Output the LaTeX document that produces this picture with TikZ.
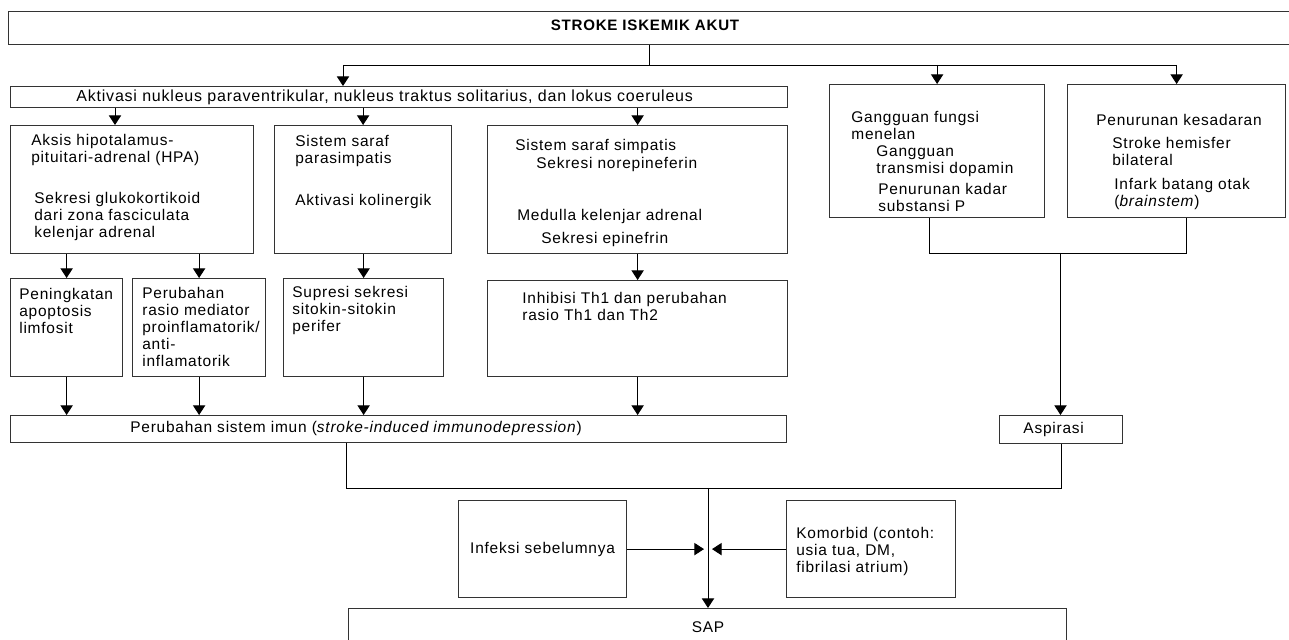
\documentclass[tikz,border=0pt]{standalone}
\usepackage{fontspec}
\setmainfont{Liberation Sans}[LetterSpace=5]
\usetikzlibrary{arrows.meta,positioning}

\begin{document}
\begin{tikzpicture}[kotak/.style={draw=black!80,line width=0.7pt,anchor=north west,inner sep=0pt,font={\fontsize{8.8pt}{9.67pt}\selectfont}},teks/.style={anchor=north west,align=left,inner sep=0pt,font={\fontsize{8.8pt}{9.67pt}\selectfont}},panah/.style={line width=0.55pt,-{Triangle[length=5.5pt,width=7pt]}},garis/.style={line width=0.55pt}]
\useasboundingbox (0,0) rectangle (25.78,-12.8);
% kotak
\node[kotak,minimum width=25.7cm,minimum height=0.66cm] (judul) at (0.16,-0.22) {};
\node[teks,anchor=center,font={\fontsize{8.6pt}{9.67pt}\selectfont\bfseries}] (tjudul) at (12.90,-0.50) {STROKE ISKEMIK AKUT};
\node[kotak,minimum width=15.54cm,minimum height=0.42cm] (aktivasi) at (0.20,-1.72) {};
\node[teks,anchor=west,font={\fontsize{9.1pt}{9.67pt}\selectfont}] (taktivasi) at (1.52,-1.94) {Aktivasi nukleus paraventrikular, nukleus traktus solitarius, dan lokus coeruleus};
\node[kotak,minimum width=4.86cm,minimum height=2.56cm] (hpa) at (0.20,-2.50) {};
\node[kotak,minimum width=3.54cm,minimum height=2.56cm] (para) at (5.48,-2.50) {};
\node[kotak,minimum width=6.00cm,minimum height=2.56cm] (simpa) at (9.74,-2.50) {};
\node[kotak,minimum width=2.24cm,minimum height=1.96cm] (ningkat) at (0.20,-5.56) {};
\node[kotak,minimum width=2.66cm,minimum height=1.96cm] (rasio) at (2.64,-5.56) {};
\node[kotak,minimum width=3.20cm,minimum height=1.96cm] (supresi) at (5.66,-5.56) {};
\node[kotak,minimum width=6.00cm,minimum height=1.92cm] (inhibisi) at (9.74,-5.60) {};
\node[kotak,minimum width=15.52cm,minimum height=0.54cm] (imun) at (0.20,-8.30) {};
\node[teks,anchor=west] (timun) at (2.60,-8.58) {Perubahan sistem imun (\textit{stroke-induced immunodepression})};
\node[kotak,minimum width=4.30cm,minimum height=2.66cm] (gangguan) at (16.58,-1.68) {};
\node[kotak,minimum width=4.36cm,minimum height=2.66cm] (penurunan) at (21.34,-1.68) {};
\node[kotak,minimum width=2.46cm,minimum height=0.56cm] (aspirasi) at (19.98,-8.30) {Aspirasi\hspace*{0.3cm}};
\node[kotak,minimum width=3.36cm,minimum height=1.94cm] (infeksi) at (9.16,-10.00) {Infeksi sebelumnya};
\node[kotak,minimum width=3.38cm,minimum height=1.94cm] (komorbid) at (15.72,-10.00) {};
\node[kotak,minimum width=14.36cm,minimum height=1.0cm] (sap) at (6.96,-12.16) {};
\node[teks,anchor=center] (tsap) at (14.16,-12.54) {SAP};
% isi teks
\node[teks] (thpa) at (0.62,-2.68) {Aksis hipotalamus-\\pituitari-adrenal (HPA)\\[0.48cm]\hspace*{0.06cm}Sekresi glukokortikoid\\\hspace*{0.06cm}dari zona fasciculata\\\hspace*{0.06cm}kelenjar adrenal};
\node[teks] (tpara) at (5.90,-2.70) {Sistem saraf\\parasimpatis\\[0.5cm]Aktivasi kolinergik};
\node[teks] (tsimpa) at (10.30,-2.78) {Sistem saraf simpatis\\[0.02cm]\hspace*{0.42cm}Sekresi norepineferin\\[0.7cm]\hspace*{0.04cm}Medulla kelenjar adrenal\\[0.12cm]\hspace*{0.52cm}Sekresi epinefrin};
\node[teks] (tningkat) at (0.38,-5.76) {Peningkatan\\apoptosis\\limfosit};
\node[teks] (trasio) at (2.84,-5.74) {Perubahan\\rasio mediator\\proinflamatorik/\\anti-\\inflamatorik};
\node[teks] (tsupresi) at (5.84,-5.72) {Supresi sekresi\\sitokin-sitokin\\perifer};
\node[teks] (tinhibisi) at (10.44,-5.84) {Inhibisi Th1 dan perubahan\\rasio Th1 dan Th2};
\node[teks] (tgangguan) at (17.02,-2.22) {Gangguan fungsi\\menelan\\\hspace*{0.5cm}Gangguan\\\hspace*{0.5cm}transmisi dopamin\\[0.08cm]\hspace*{0.54cm}Penurunan kadar\\\hspace*{0.54cm}substansi P};
\node[teks] (tpenurunan) at (21.92,-2.28) {Penurunan kesadaran\\[0.12cm]\hspace*{0.32cm}Stroke hemisfer\\\hspace*{0.32cm}bilateral\\[0.14cm]\hspace*{0.36cm}Infark batang otak\\\hspace*{0.36cm}(\textit{brainstem})};
\node[teks] (tkomorbid) at (15.92,-10.54) {Komorbid (contoh:\\usia tua, DM,\\fibrilasi atrium)};
% panah
\coordinate (cabang) at (12.98,-1.30);
\coordinate (kaktivasi) at (6.86,-1.30);
\coordinate (khpa) at (2.30,-2.30);
\draw[garis] (judul.south -| cabang) -- (cabang);
\draw[garis] (kaktivasi) -- (penurunan.north |- cabang);
\draw[panah] (kaktivasi) -- (kaktivasi |- aktivasi.north);
\foreach \t in {gangguan,penurunan}{\draw[panah] (\t.north |- cabang) -- (\t.north);}
\draw[panah] (aktivasi.south -| khpa) -- (hpa.north -| khpa);
\foreach \t in {para,simpa}{\draw[panah] (aktivasi.south -| \t.north) -- (\t.north);}
\foreach \a/\b in {hpa/ningkat,hpa/rasio,para/supresi,simpa/inhibisi}{\draw[panah] (\a.south -| \b.north) -- (\b.north);}
\foreach \b in {ningkat,rasio,supresi,inhibisi}{\draw[panah] (\b.south) -- (\b.south |- imun.north);}
\coordinate (kg) at (18.58,-5.06);
\coordinate (kp) at (23.72,-5.06);
\coordinate (gabung) at (21.21,-5.06);
\draw[garis] (gangguan.south -| kg) -- (kg) -- (kp) -- (penurunan.south -| kp);
\draw[panah] (gabung) -- (gabung |- aspirasi.north);
\coordinate (bawah) at (14.16,-9.76);
\coordinate (kimun) at (6.92,-9.76);
\draw[garis] (imun.south -| kimun) -- (kimun) -| (aspirasi.south);
\draw[panah] (bawah) -- (bawah |- sap.north);
\draw[panah] (infeksi.east) -- ([xshift=-0.08cm]infeksi.east -| bawah);
\draw[panah] (komorbid.west) -- ([xshift=0.08cm]komorbid.west -| bawah);
\end{tikzpicture}
\end{document}
